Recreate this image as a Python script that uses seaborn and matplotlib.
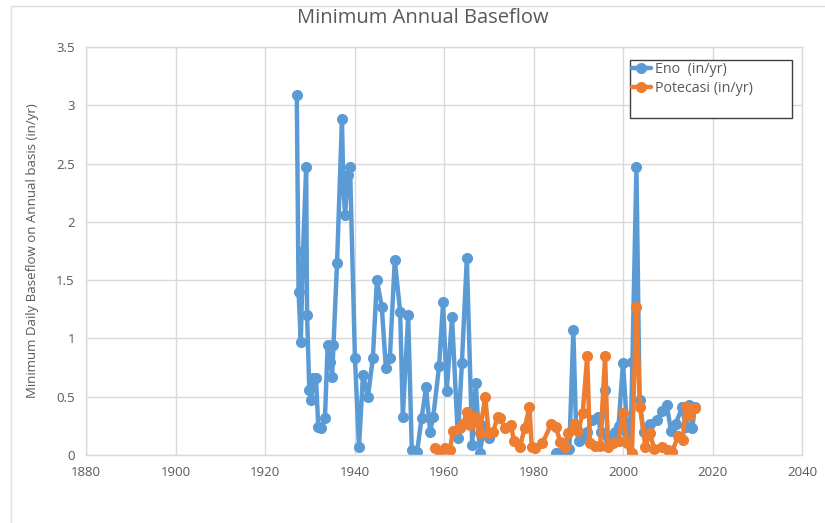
import numpy as np
import pandas as pd
import matplotlib
matplotlib.use("Agg")
import matplotlib.pyplot as plt
from matplotlib.lines import Line2D
from matplotlib.patches import Rectangle
import seaborn as sns

# Eno: (year, min daily baseflow in/yr)
eno_year = [1927.1, 1927.5, 1928.0, 1928.5, 1929.2, 1929.4, 1929.9, 1930.3, 1930.8, 1931.4, 1931.9,
            1932.5, 1933.4, 1934.0, 1934.6, 1935.0, 1935.3, 1936.1, 1937.2, 1937.5, 1937.9, 1938.5,
            1939.0, 1940.1, 1941.0, 1941.9, 1943.0, 1944.1, 1945.0, 1946.1, 1947.0, 1947.9, 1949.0,
            1950.2, 1950.8, 1952.0, 1952.8, 1953.2, 1954.0, 1955.0, 1956.0, 1956.9, 1957.6, 1958.9,
            1959.8, 1960.6, 1961.8, 1963.1, 1964.0, 1965.1, 1966.3, 1967.1, 1968.0, 1969.0, 1970.0]
eno_val = [3.09, 1.40, 0.97, 1.75, 2.47, 1.20, 0.56, 0.47, 0.66, 0.66, 0.24,
           0.23, 0.32, 0.94, 0.80, 0.67, 0.94, 1.65, 2.88, 2.30, 2.06, 2.40,
           2.47, 0.83, 0.07, 0.69, 0.50, 0.83, 1.50, 1.27, 0.75, 0.83, 1.67,
           1.23, 0.33, 1.20, 0.04, -0.04, 0.03, 0.32, 0.58, 0.20, 0.33, 0.76,
           1.31, 0.55, 1.18, 0.15, 0.79, 1.69, 0.09, 0.62, 0.02, 0.25, 0.15]

eno_year2 = [1985.0, 1986.0, 1987.2, 1988.0, 1988.9, 1989.5, 1990.1, 1991.0, 1992.0, 1993.0,
             1994.4, 1995.0, 1996.0, 1996.6, 1998.2, 1999.0, 2000.0, 2001.0, 2001.6, 2002.1,
             2003.0, 2003.7, 2004.6, 2006.0, 2007.6, 2008.7, 2009.8, 2010.7, 2011.8, 2013.2,
             2014.0, 2014.8, 2015.5, 2016.0]
eno_val2 = [0.02, 0.02, 0.00, 0.05, 1.07, 0.25, 0.12, 0.15, 0.20, 0.30,
            0.33, 0.20, 0.56, 0.15, 0.20, 0.25, 0.79, 0.19, -0.07, 0.80,
            2.47, 0.47, 0.20, 0.27, 0.30, 0.38, 0.43, 0.21, 0.27, 0.41,
            0.24, 0.43, 0.23, 0.41]

# Potecasi
pot_year = [1958.0, 1959.1, 1960.2, 1961.3, 1962.0, 1963.6, 1964.3, 1965.1, 1965.8, 1967.0,
            1968.0, 1969.2, 1970.0, 1971.0, 1972.0, 1972.6, 1973.6, 1975.0, 1975.6, 1977.0,
            1978.0, 1979.1, 1979.6, 1980.3, 1982.0, 1984.0, 1985.0, 1986.0, 1987.0, 1987.7,
            1989.0, 1990.0, 1991.0, 1992.0, 1992.6, 1993.7, 1994.9, 1996.0, 1996.6, 1997.8,
            1999.0, 2000.0, 2001.0, 2002.0, 2003.0, 2003.8, 2005.0, 2006.0, 2007.0, 2008.7,
            2010.0, 2011.0, 2012.3, 2013.4, 2014.0, 2015.0, 2016.0]
pot_val = [0.06, 0.03, 0.06, 0.04, 0.21, 0.23, 0.27, 0.37, 0.26, 0.33,
           0.19, 0.50, 0.19, 0.20, 0.33, 0.32, 0.23, 0.26, 0.12, 0.07,
           0.23, 0.41, 0.07, 0.06, 0.10, 0.27, 0.24, 0.11, 0.07, 0.19,
           0.27, 0.21, 0.36, 0.85, 0.10, 0.08, 0.08, 0.85, 0.07, 0.10,
           0.12, 0.36, 0.10, 0.02, 1.27, 0.41, 0.07, 0.19, 0.05, 0.07,
           0.04, 0.03, 0.16, 0.13, 0.41, 0.34, 0.40]

blue = "#5B9BD5"
orange = "#ED7D31"
grey_text = "#595959"
LW = 3.2
MS = 8

sns.set_style("white")
plt.rcParams['font.family'] = ['Open Sans', 'DejaVu Sans']

fig = plt.figure(figsize=(8.25, 5.23), dpi=100)
ax = fig.add_axes([86 / 825, 68 / 523, 716 / 825, 408 / 523])

# Eno has a gap 1970-1985, draw as two segments
for yrs, vals in [(eno_year, eno_val), (eno_year2, eno_val2)]:
    df = pd.DataFrame({"year": yrs, "flow": vals})
    sns.lineplot(data=df, x="year", y="flow", ax=ax, sort=False, color=blue, lw=LW,
                 marker="o", markersize=MS, markeredgewidth=0, legend=False)

df_p = pd.DataFrame({"year": pot_year, "flow": pot_val})
sns.lineplot(data=df_p, x="year", y="flow", ax=ax, sort=False, color=orange, lw=LW,
             marker="o", markersize=MS, markeredgewidth=0, legend=False)

ax.set_xlim(1880, 2040)
ax.set_ylim(0, 3.5)
ax.set_xticks(np.arange(1880, 2041, 20))
ax.set_yticks(np.arange(0, 3.51, 0.5))
ax.set_yticklabels(["0", "0.5", "1", "1.5", "2", "2.5", "3", "3.5"])
ax.grid(True, color="#D9D9D9", lw=1)
ax.set_axisbelow(True)
for s in ax.spines.values():
    s.set_color("#D9D9D9")
    s.set_linewidth(1)
ax.tick_params(colors=grey_text, labelsize=9.5, length=0, pad=8)
ax.set_xlabel("")
ax.set_ylabel("Minimum Daily Baseflow on Annual basis (in/yr)", color=grey_text, fontsize=9.5, labelpad=12)
fig.text(0.512, 0.965, "Minimum Annual Baseflow", ha="center", va="center", fontsize=14.5, color=grey_text)

# legend box (larger than its contents, like the original)
x0, x1 = (630 - 86) / 716, (792 - 86) / 716
y1, y0 = (455 - 60) / 408, (455 - 118) / 408
ax.add_patch(Rectangle((x0, y0), x1 - x0, y1 - y0, transform=ax.transAxes, facecolor="white",
                       edgecolor="#404040", lw=1, zorder=5))
handles = [Line2D([], [], color=blue, lw=LW, marker="o", markersize=MS, markeredgewidth=0),
           Line2D([], [], color=orange, lw=LW, marker="o", markersize=MS, markeredgewidth=0)]
leg = ax.legend(handles, ["Eno  (in/yr)", "Potecasi (in/yr)"], loc="upper left",
                bbox_to_anchor=(x0, y1), frameon=False, fontsize=10.3, handlelength=1.3,
                handletextpad=0.3, borderpad=0.15, labelspacing=0.3, borderaxespad=0)
leg.set_zorder(6)
for t in leg.get_texts():
    t.set_color(grey_text)

# outer chart frame
fig.add_artist(Line2D([11 / 825, 1], [1 - 6 / 523, 1 - 6 / 523], color="#E0E0E0", lw=1, transform=fig.transFigure))
fig.add_artist(Line2D([11 / 825, 11 / 825], [0, 1 - 6 / 523], color="#E0E0E0", lw=1, transform=fig.transFigure))

fig.savefig("out.png", dpi=100)
